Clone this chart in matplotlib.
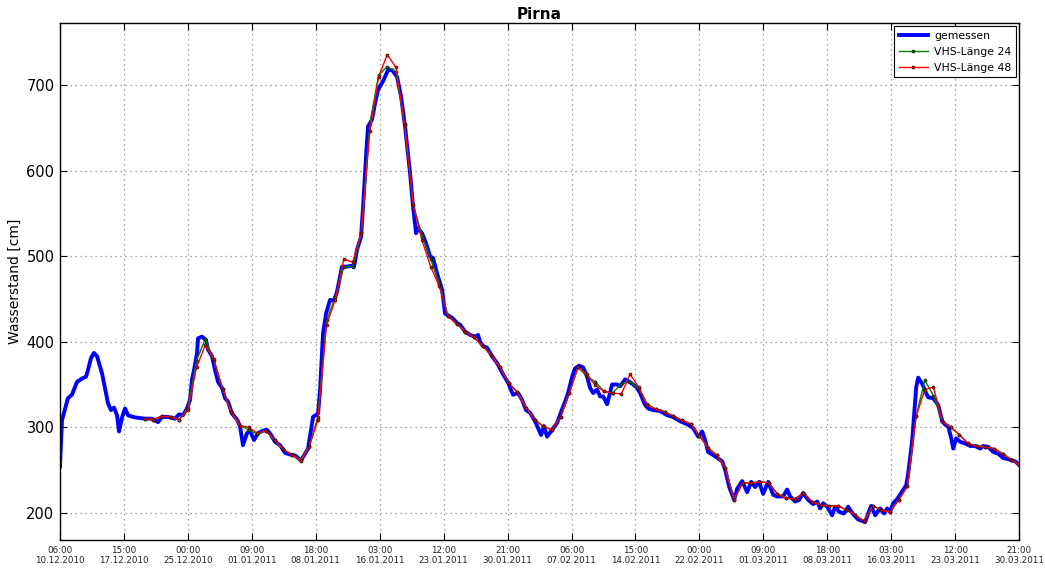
import numpy as np
import pandas as pd
import matplotlib
matplotlib.use("Agg")
import matplotlib.pyplot as plt

# ---------------- data ----------------
start = pd.Timestamp("2010-12-10 06:00")
end = pd.Timestamp("2011-03-30 21:00")

# measured water level: days since start, value in cm
meas_days = [0, 0.23, 0.92, 1.38, 1.96, 2.54, 3.0, 3.23, 3.58, 3.92, 4.27, 4.85, 5.19, 5.54, 5.88,
             6.23, 6.58, 6.81, 7.15, 7.5, 7.85, 8.42, 9.0, 9.81, 10.61, 11.31, 11.77, 12.46, 13.27,
             13.73, 14.19, 14.65, 15.0, 15.23, 15.46, 15.81, 15.92, 16.38, 16.84, 17.07, 17.54,
             17.88, 18.23, 18.69, 19.04, 19.38, 19.84, 20.42, 20.77, 21.11, 21.57, 21.92, 22.38,
             22.84, 23.42, 23.88, 24.34, 24.8, 25.38, 25.96, 26.54, 27.11, 27.8, 28.61, 29.19,
             29.77, 30.0, 30.34, 30.69, 31.15, 31.61, 31.96, 32.53, 33.11, 33.69, 33.92, 34.26,
             34.73, 34.96, 35.3, 35.53, 35.99, 36.34, 36.69, 37.26, 37.84, 38.3, 38.88, 39.34,
             39.8, 40.38, 40.73, 41.07, 41.3, 41.76, 42.23, 42.69, 43.03, 43.49, 44.07, 44.42,
             45.23, 45.8, 46.15, 46.72, 47.3, 47.88, 48.22, 48.45, 48.8, 49.26, 49.84, 50.42,
             51.11, 51.69, 52.26, 52.84, 53.3, 53.76, 54.22, 54.8, 55.15, 55.49, 55.84, 56.18,
             56.76, 57.34, 57.8, 58.26, 58.61, 59.07, 59.42, 59.88, 60.34, 60.8, 61.15, 61.49,
             61.95, 62.3, 62.65, 63.11, 63.34, 63.68, 64.26, 64.61, 65.18, 65.53, 66.11, 66.57,
             66.91, 67.49, 67.83, 68.41, 69.22, 70.03, 70.72, 71.53, 72.45, 73.03, 73.61, 74.07,
             74.41, 74.76, 75.57, 76.38, 76.73, 77.19, 77.76, 78.11, 78.68, 79.26, 79.72, 80.18,
             80.64, 81.1, 81.68, 82.26, 82.72, 83.41, 83.87, 84.22, 84.8, 85.26, 85.72, 86.3,
             86.87, 87.34, 87.68, 88.03, 88.49, 89.06, 89.41, 89.87, 90.41, 90.91, 91.42, 92.06,
             92.87, 93.22, 93.56, 94.03, 94.6, 95.06, 95.41, 95.76, 96.1, 96.57, 97.14, 97.6,
             97.84, 98.3, 98.53, 98.76, 98.99, 99.45, 99.8, 100.14, 100.72, 101.3, 101.76, 102.1,
             102.45, 102.8, 103.03, 103.37, 103.83, 104.41, 104.99, 105.56, 106.14, 106.49,
             107.06, 107.64, 108.22, 108.79, 109.6, 110.18, 110.625]
meas_vals = [254, 308, 334, 338, 353, 357, 359, 367, 381, 387, 383, 363, 346, 328, 320,
             323, 314, 295, 311, 322, 314, 312, 311, 310, 310, 306, 312, 312, 310,
             315, 314, 322, 332, 356, 367, 387, 404, 406, 402, 391, 383,
             367, 353, 346, 334, 330, 316, 309, 301, 279, 293, 296, 285,
             293, 296, 297, 291, 283, 279, 270, 268, 267, 261, 275, 312,
             316, 344, 410, 433, 449, 448, 459, 488, 488, 489, 488, 508,
             523, 558, 617, 652, 660, 679, 695, 705, 718, 718, 710, 687,
             652, 597, 558, 527, 533, 527, 515, 500, 498, 480, 461, 433,
             428, 422, 420, 412, 408, 406, 408, 400, 395, 393, 383, 375,
             362, 352, 338, 340, 332, 320, 317, 307, 299, 291, 301, 289,
             297, 305, 318, 330, 340, 359, 369, 372, 370, 359, 346, 340,
             344, 336, 336, 327, 336, 350, 350, 348, 356, 354, 350, 346,
             340, 326, 322, 320, 319, 314, 312, 307, 303, 299, 289, 295,
             285, 271, 266, 260, 250, 230, 215, 228, 237, 224, 236, 230,
             236, 222, 236, 221, 219, 219, 227, 219, 213, 215, 223, 215,
             210, 213, 205, 211, 207, 197, 207, 201, 199, 207, 199, 192,
             189, 199, 208, 197, 205, 199, 205, 201, 211, 216, 225, 232,
             246, 285, 316, 347, 358, 351, 342, 335, 334, 326, 307, 303,
             301, 287, 275, 287, 283, 281, 278, 278, 275, 278,
             277, 271, 269, 264, 262, 260, 256]

# forecasts: one value per day at 00:00, 20.12.2010 ... 31.03.2011
vhs_start = pd.Timestamp("2010-12-20 00:00")
vhs24 = [310, 309, 313, 312, 309, 322, 378, 403, 378, 345, 318, 302, 297, 292, 296, 285,
         274, 268, 262, 278, 312, 425, 452, 488, 488, 527, 655, 712, 722, 716, 655, 560,
         525, 497, 468, 430, 421, 412, 405, 395, 384, 370, 352, 341, 323, 309, 301, 297,
         312, 340, 370, 360, 353, 342, 340, 351, 353, 345, 327, 321, 318, 313, 308, 304,
         290, 276, 267, 252, 215, 235, 235, 236, 235, 222, 217, 216, 223, 213, 209, 208,
         208, 203, 197, 190, 208, 203, 201, 215, 231, 313, 355, 337, 307, 300, 291, 281,
         278, 277, 275, 269, 262, 255]
vhs48 = [310, 309, 313, 312, 309, 320, 370, 396, 380, 345, 318, 302, 300, 293, 296, 285,
         274, 268, 261, 277, 309, 420, 449, 497, 493, 527, 647, 710, 736, 721, 654, 560,
         519, 488, 465, 430, 421, 412, 405, 395, 384, 370, 352, 341, 323, 309, 301, 297,
         312, 340, 370, 362, 349, 342, 340, 339, 362, 347, 326, 321, 318, 313, 308, 304,
         290, 276, 267, 252, 215, 235, 235, 236, 235, 222, 217, 216, 223, 213, 209, 208,
         208, 203, 197, 190, 208, 203, 201, 215, 231, 313, 344, 347, 307, 300, 291, 281,
         278, 277, 275, 269, 262, 255]

y_ticks = [200, 300, 400, 500, 600, 700]
n_xticks = 16
xtick_step_hours = 177

# ---------------- plot ----------------
meas_t = start + pd.to_timedelta(meas_days, unit="D")
vhs_t = vhs_start + pd.to_timedelta(np.arange(len(vhs24)), unit="D")

fig = plt.figure(figsize=(10.45, 5.70), dpi=100)
ax = fig.add_axes([0.0574, 0.0526, 0.9178, 0.907])

ax.plot(meas_t, meas_vals, color="#0000ff", lw=2.8, label="gemessen",
        solid_joinstyle="round", zorder=2)
ax.plot(vhs_t, vhs24, color="#008000", lw=1.0, marker="o", ms=2.2, mec="k",
        mfc="#008000", mew=0.4, label="VHS-Länge 24", zorder=3)
ax.plot(vhs_t, vhs48, color="#ff0000", lw=1.0, marker="o", ms=2.2, mec="k",
        mfc="#ff0000", mew=0.4, label="VHS-Länge 48", zorder=4)

ax.set_xlim(start, end)
ax.set_ylim(168, 773)
ax.set_yticks(y_ticks)

xt = [start + pd.Timedelta(hours=xtick_step_hours * i) for i in range(n_xticks)]
ax.set_xticks(xt)
ax.set_xticklabels([t.strftime("%H:%M\n%d.%m.%Y") for t in xt], fontsize=6.3,
                   color="#222222")
ax.tick_params(axis="y", labelsize=10.5)
ax.tick_params(direction="in", length=5, width=0.8, top=True, right=True, pad=4)

ax.grid(True, color="#888888", linestyle=(0, (1, 3)), linewidth=0.9)
for s in ax.spines.values():
    s.set_linewidth(1.0)

ax.set_title("Pirna", fontweight="bold", fontsize=11, pad=3)
ax.set_ylabel("Wasserstand [cm]", fontsize=10, labelpad=3)

leg = ax.legend(loc="upper right", fontsize=7.8, fancybox=False, framealpha=1,
                edgecolor="k", borderaxespad=0.25, handlelength=2.7, labelspacing=0.55,
                borderpad=0.45, handletextpad=0.6)
leg.get_frame().set_linewidth(0.8)

fig.savefig("out.png", dpi=100)
